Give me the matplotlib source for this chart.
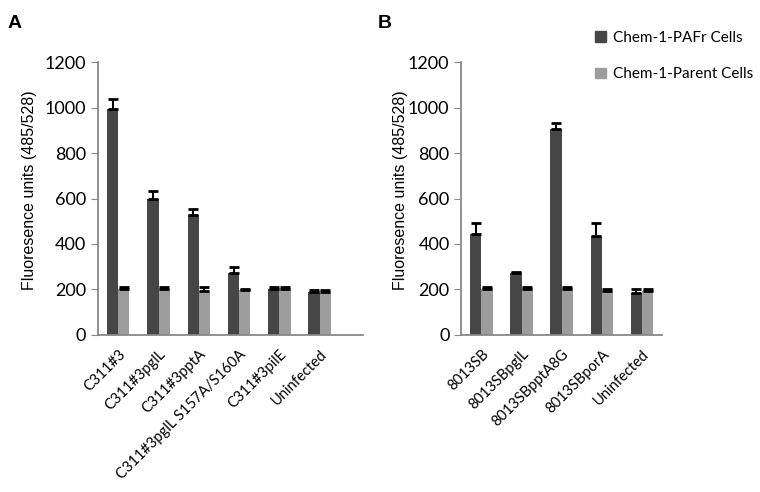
import matplotlib
matplotlib.use('Agg')
import matplotlib.pyplot as plt
import numpy as np
from matplotlib.patches import Patch

# panel A
cats_a = ['C311#3', 'C311#3pglL', 'C311#3pptA', 'C311#3pglL S157A/S160A', 'C311#3pilE', 'Uninfected']
pafr_a = [995, 598, 526, 272, 201, 187]
pafr_a_err = [45, 35, 28, 28, 10, 8]
parent_a = [201, 201, 192, 198, 201, 187]
parent_a_err = [9, 9, 18, 4, 10, 8]

# panel B
cats_b = ['8013SB', '8013SBpglL', '8013SBpptA8G', '8013SBporA', 'Uninfected']
pafr_b = [443, 270, 908, 436, 184]
pafr_b_err = [48, 8, 27, 55, 16]
parent_b = [203, 203, 203, 192, 192]
parent_b_err = [5, 5, 5, 8, 8]

series_labels = ['Chem-1-PAFr Cells', 'Chem-1-Parent Cells']
dark = '#464646'
light = '#9c9c9c'
tick_font = 'Lato'

fig = plt.figure(figsize=(7.6, 4.92), dpi=100)
ax_a = fig.add_axes([0.129, 0.32, 0.348, 0.553])
ax_b = fig.add_axes([0.607, 0.32, 0.264, 0.553])


def draw_panel(ax, cats, v1, e1, v2, e2, xmax, label_x):
    x = np.arange(len(cats))
    w = 0.28
    ax.bar(x - w / 2, v1, w, color=dark, yerr=[np.zeros(len(e1)), e1],
           error_kw=dict(ecolor='black', capsize=3.5, elinewidth=1.5, capthick=2.0))
    ax.bar(x + w / 2, v2, w, color=light, yerr=[np.zeros(len(e2)), e2],
           error_kw=dict(ecolor='black', capsize=3.5, elinewidth=1.5, capthick=2.0))
    ax.set_xlim(-0.5, xmax)
    ax.set_ylim(0, 1200)
    ax.set_yticks(range(0, 1201, 200))
    ax.set_xticks(x)
    ax.set_xticklabels(cats, rotation=45, ha='right', rotation_mode='anchor',
                       family=tick_font, fontsize=10.5)
    ax.tick_params(axis='x', length=0, pad=9)
    ax.tick_params(axis='y', direction='out', length=5, color='#888888', labelsize=13)
    for lab in ax.get_yticklabels():
        lab.set_family(tick_font)
    for s in ['top', 'right']:
        ax.spines[s].set_visible(False)
    for s in ['left', 'bottom']:
        ax.spines[s].set_color('#888888')
        ax.spines[s].set_linewidth(1.3)
    ax.set_ylabel('Fluoresence units (485/528)', family='Liberation Sans', fontsize=11.5)
    ax.yaxis.set_label_coords(label_x, 0.53)


draw_panel(ax_a, cats_a, pafr_a, pafr_a_err, parent_a, parent_a_err, 6.06, -0.23)
draw_panel(ax_b, cats_b, pafr_b, pafr_b_err, parent_b, parent_b_err, 4.5, -0.265)

fig.text(0.01, 0.97, 'A', family='Liberation Sans', fontsize=14, fontweight='bold', va='top')
fig.text(0.497, 0.97, 'B', family='Liberation Sans', fontsize=14, fontweight='bold', va='top')

handles = [Patch(color=dark), Patch(color=light)]
fig.legend(handles, series_labels, loc='upper left', bbox_to_anchor=(0.783, 0.938),
           frameon=False, prop={'family': tick_font, 'size': 11},
           handlelength=0.7, handleheight=0.7, handletextpad=0.45, labelspacing=1.5,
           borderpad=0, borderaxespad=0)

fig.savefig('out.png', dpi=100)
